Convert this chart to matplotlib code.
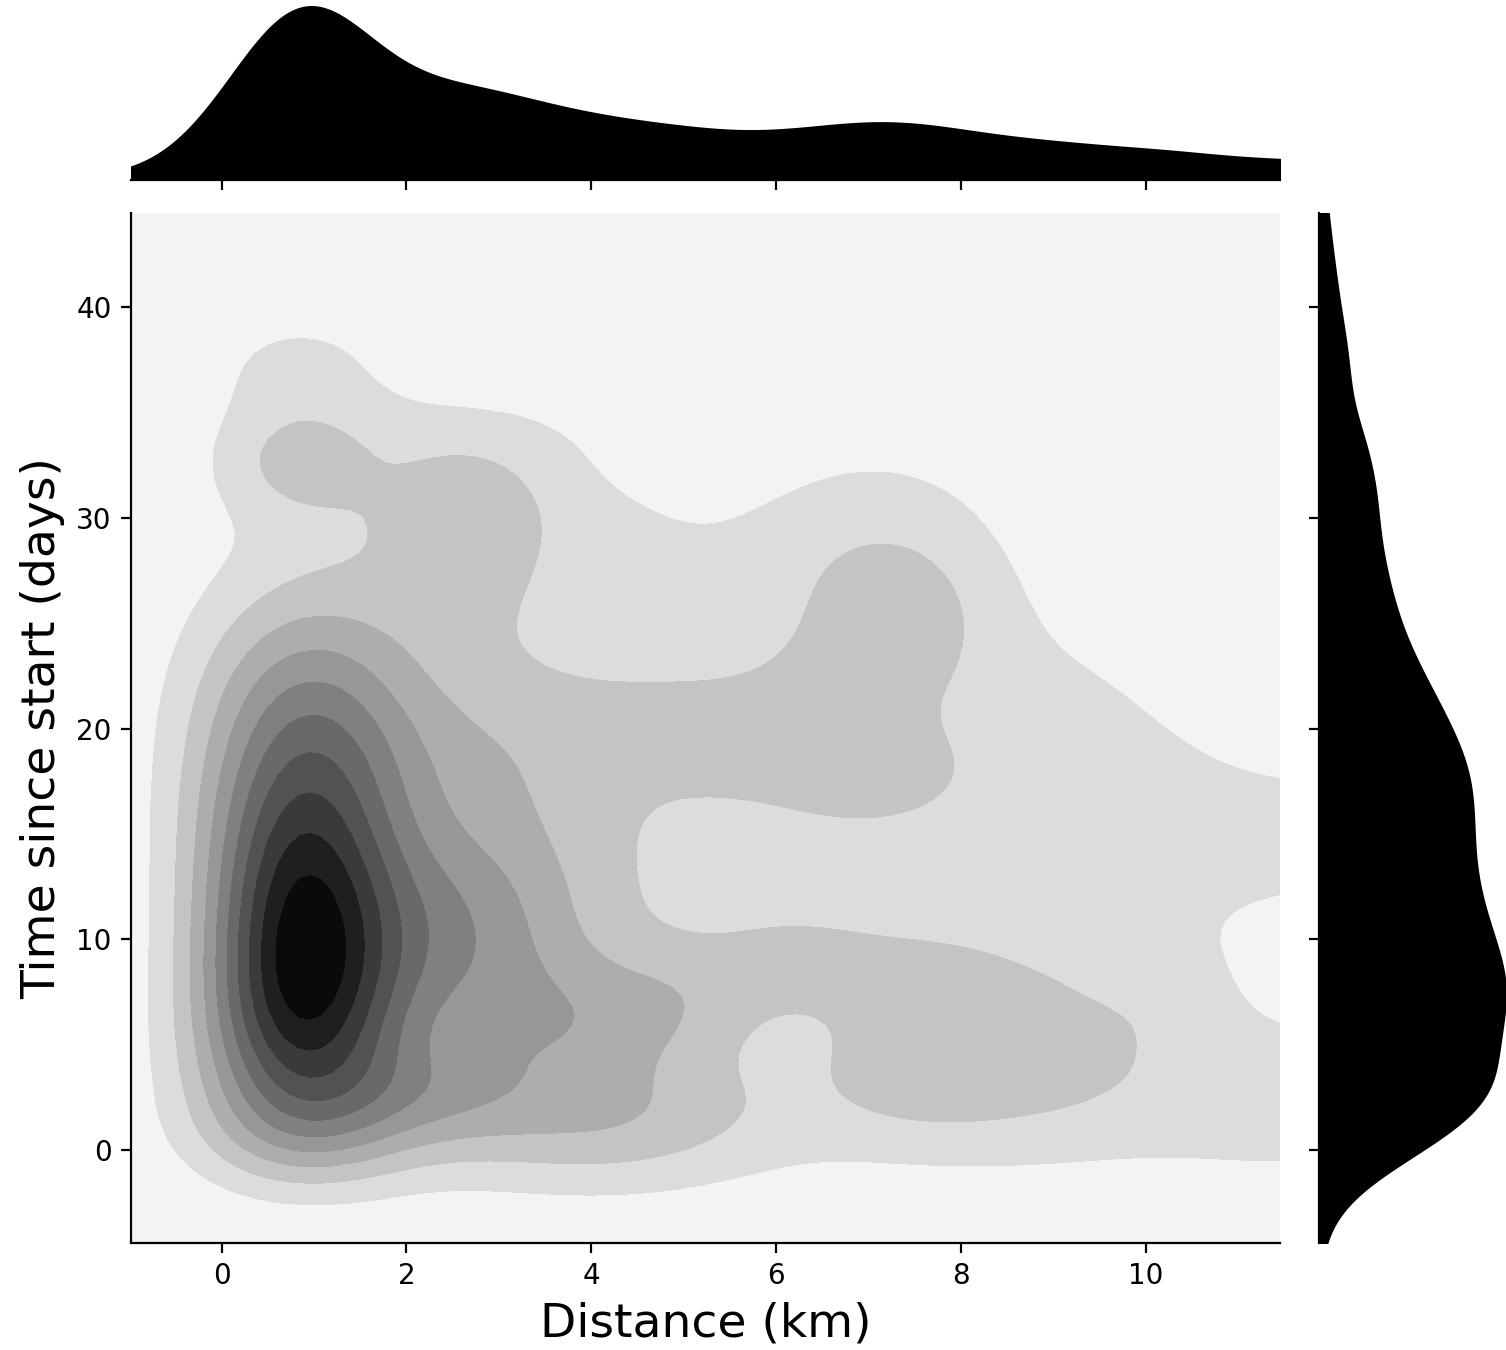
import numpy as np
import matplotlib
matplotlib.use("Agg")
import matplotlib.pyplot as plt

# density components (centre, spread, height)
comp_x  = [0.85, 0.85, 0.85, 0.85, 0.85, 0.9, 0.95,
           2.5, 3.9, 5.0, 2.3, 2.8,
           3.8, 5.6, 6.1, 4.5, 6.6,
           2.5, 4.3, 8.0, 11.8,
           2.6, 2.7, 0.8, 0.8, 2.5,
           1.5, 3.7, 7.1, 8.8, 5.5, 5.3,
           7.25, 7.0,
           7.3, 7.4, 8.7, 10.3,
           9.6, 12.3]
comp_y  = [0.5, 4.0, 8.0, 12.0, 16.0, 20.0, 24.0,
           10.0, 6.3, 7.0, 2.8, 19.0,
           13.0, 19.5, 9.0, 22.0, 22.5,
           1.5, 1.5, 2.0, 2.5,
           26.5, 31.0, 32.7, 37.0, 34.0,
           30.5, 28.0, 28.5, 21.0, 38.0, 27.5,
           25.0, 17.5,
           9.0, 4.0, 6.0, 7.5,
           14.5, 15.0]
comp_sx = [0.85, 0.8, 0.75, 0.75, 0.8, 0.85, 0.9,
           0.9, 0.8, 0.6, 0.8, 1.0,
           1.6, 1.0, 0.7, 1.2, 0.7,
           1.5, 1.2, 2.0, 1.3,
           0.7, 0.6, 0.6, 0.7, 1.2,
           1.2, 1.1, 1.1, 1.2, 4.5, 0.9,
           0.8, 0.85,
           0.9, 0.7, 1.2, 0.5,
           1.4, 1.2]
comp_sy = [2.0, 2.8, 2.8, 2.8, 2.8, 2.8, 3.0,
           4.3, 2.2, 2.0, 1.8, 2.8,
           6.0, 2.5, 2.4, 2.2, 2.0,
           2.5, 2.5, 2.8, 3.2,
           3.5, 1.8, 1.8, 2.0, 1.5,
           3.0, 3.5, 3.5, 3.8, 5.0, 2.8,
           2.8, 2.5,
           2.4, 2.0, 3.2, 2.0,
           4.2, 3.2]
comp_h  = [1.68, 4.94, 6.3, 5.67, 4.58, 3.37, 2.31,
           3.3, 1.7, 1.0, 1.2, 1.25,
           1.9, 1.4, 1.1, 0.65, 0.6,
           1.05, 1.9, 1.3, 1.3,
           1.05, 1.05, 1.5, 0.95, 0.4,
           1.0, 1.05, 1.25, 0.95, 0.47, 0.3,
           1.55, 1.6,
           1.15, 0.8, 1.7, 0.5,
           1.3, 1.0]

x_ticks = [0, 2, 4, 6, 8, 10]
y_ticks = [0, 10, 20, 30, 40]
x_range = (-0.98, 11.45)
y_range = (-4.4, 44.45)

shades = ["#f3f3f3", "#dcdcdc", "#c4c4c4", "#adadad", "#979797", "#808080",
          "#696969", "#525252", "#3a3a3a", "#1f1f1f", "#0a0a0a"]

cx = np.array(comp_x)
cy = np.array(comp_y)
sx = np.array(comp_sx)
sy = np.array(comp_sy)
h = np.array(comp_h)

gx = np.linspace(x_range[0], x_range[1], 110)
gy = np.linspace(y_range[0], y_range[1], 110)
GX, GY = np.meshgrid(gx, gy)
Z = np.zeros_like(GX)
for i in range(len(cx)):
    Z += h[i] * np.exp(-(GX - cx[i])**2 / (2 * sx[i]**2) - (GY - cy[i])**2 / (2 * sy[i]**2))

xs = np.linspace(x_range[0], x_range[1], 500)
ys = np.linspace(y_range[0], y_range[1], 500)
mx = np.zeros_like(xs)
my = np.zeros_like(ys)
for i in range(len(cx)):
    mx += h[i] * sy[i] * np.exp(-(xs - cx[i])**2 / (2 * sx[i]**2))
    my += h[i] * sx[i] * np.exp(-(ys - cy[i])**2 / (2 * sy[i]**2))

fig = plt.figure(figsize=(7.53, 6.75), dpi=200)
ax = fig.add_axes([131/1506, 107/1350, 1149/1506, 1030/1350])
ax_top = fig.add_axes([131/1506, 1170/1350, 1149/1506, 180/1350], sharex=ax)
ax_right = fig.add_axes([1319/1506, 107/1350, 187/1506, 1030/1350], sharey=ax)

zmax = Z.max()
levels = zmax * np.arange(12) / 11.0
levels[-1] = zmax * 1.01
ax.contourf(GX, GY, Z, levels=levels, colors=shades)
ax.set_xlim(x_range)
ax.set_ylim(y_range)
ax.set_xticks(x_ticks)
ax.set_yticks(y_ticks)
ax.spines["top"].set_visible(False)
ax.spines["right"].set_visible(False)
ax.set_xlabel("Distance (km)", fontsize=17)
ax.set_ylabel("Time since start (days)", fontsize=17)

ax_top.fill_between(xs, 0, mx, color="k", lw=1)
ax_top.set_ylim(0, mx.max() * 1.04)
for s in ["top", "right", "left"]:
    ax_top.spines[s].set_visible(False)
ax_top.tick_params(axis="x", labelbottom=False)
ax_top.tick_params(axis="y", left=False, labelleft=False)

ax_right.fill_betweenx(ys, 0, my, color="k", lw=1)
ax_right.set_xlim(0, my.max() * 1.005)
for s in ["top", "right", "bottom"]:
    ax_right.spines[s].set_visible(False)
ax_right.tick_params(axis="y", labelleft=False)
ax_right.tick_params(axis="x", bottom=False, labelbottom=False)

fig.savefig("out.png", dpi=200)
